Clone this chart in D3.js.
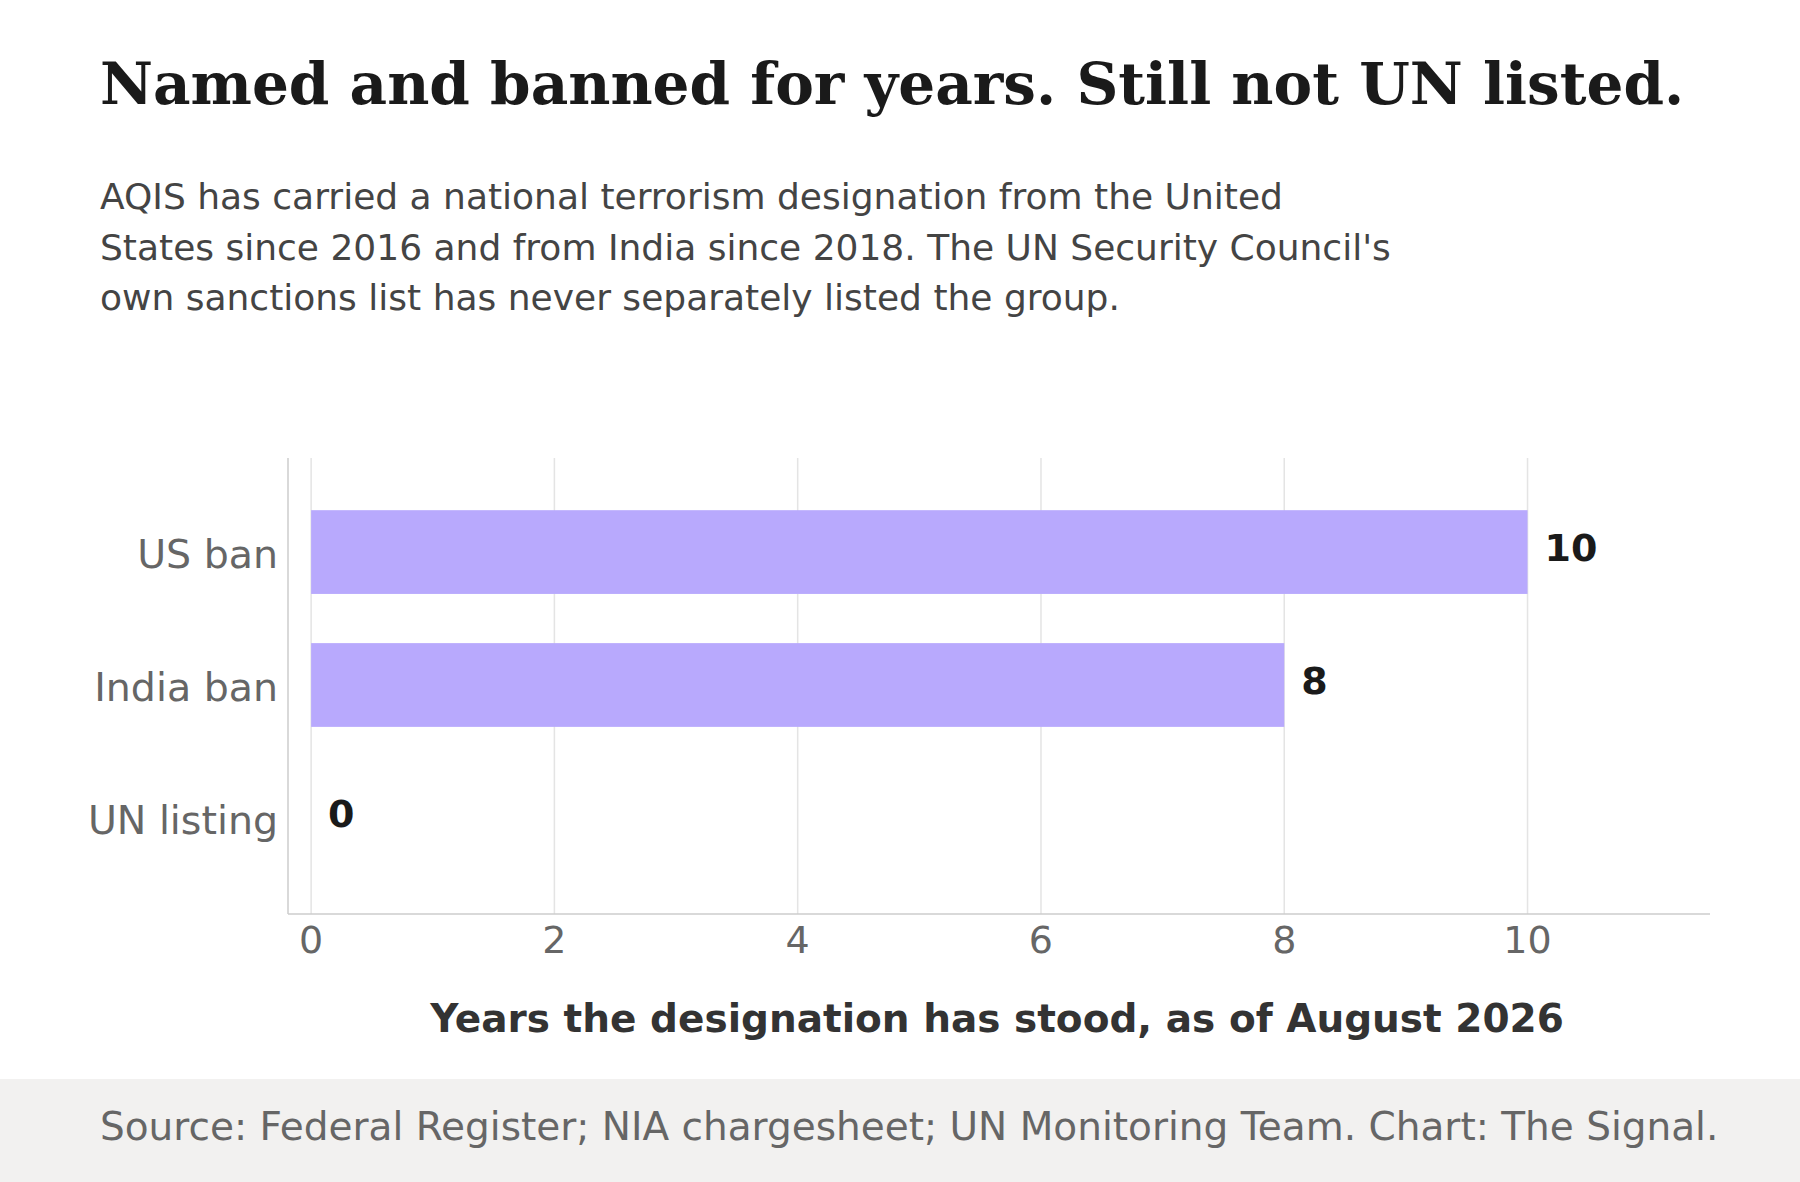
<!DOCTYPE html>
<html><head><meta charset="utf-8">
<script src="https://cdn.jsdelivr.net/npm/d3@7"></script>
<style>body{margin:0;background:#fff}</style>
</head><body>
<div id="chart"></div>
<script>
// data
var categories = ["US ban", "India ban", "UN listing"];
var years = [10, 8, 0];
var xTicks = [0, 2, 4, 6, 8, 10];

var W = 1800, H = 1182;
var svg = d3.select("#chart").append("svg").attr("width", W).attr("height", H);

var x = d3.scaleLinear().domain([-0.19, 11.5]).range([288, 1710]);
var y = d3.scaleBand().domain(categories).range([458, 914]).paddingInner(0.37).paddingOuter(0.4);

// title + subtitle
svg.append("text").attr("x", 100).attr("y", 104)
    .style("font-family", "DejaVu Serif").style("font-weight", "bold")
    .style("font-size", "58px").style("fill", "#1a1a1a")
    .text("Named and banned for years. Still not UN listed.");

var sub = ["AQIS has carried a national terrorism designation from the United",
    "States since 2016 and from India since 2018. The UN Security Council's",
    "own sanctions list has never separately listed the group."];
svg.selectAll(".sub").data(sub).enter().append("text")
    .attr("x", 100).attr("y", (d, i) => 209 + i * 50.5)
    .style("font-family", "DejaVu Sans").style("font-size", "36px").style("fill", "#444")
    .text(d => d);

// grid
svg.selectAll(".grid").data(xTicks).enter().append("line")
    .attr("x1", d => x(d)).attr("x2", d => x(d)).attr("y1", 458).attr("y2", 914)
    .attr("stroke", "#e4e4e4").attr("stroke-width", 1.5);

// axis lines
svg.append("line").attr("x1", 288).attr("x2", 288).attr("y1", 458).attr("y2", 914)
    .attr("stroke", "#ccc").attr("stroke-width", 1.5);
svg.append("line").attr("x1", 288).attr("x2", 1710).attr("y1", 914).attr("y2", 914)
    .attr("stroke", "#ccc").attr("stroke-width", 1.5);

// bars
svg.selectAll(".bar").data(years).enter().append("rect")
    .attr("x", x(0)).attr("y", (d, i) => y(categories[i]) - 1)
    .attr("width", d => x(d) - x(0)).attr("height", y.bandwidth())
    .attr("fill", "#b8a9fd");

svg.selectAll(".val").data(years).enter().append("text")
    .attr("x", d => x(d) + 17).attr("y", (d, i) => y(categories[i]) + y.bandwidth() / 2 + 8)
    .style("font-family", "DejaVu Sans").style("font-weight", "bold")
    .style("font-size", "38px").style("fill", "#1a1a1a")
    .text(d => d);

// category labels
svg.selectAll(".cat").data(categories).enter().append("text")
    .attr("x", 278).attr("y", d => y(d) + y.bandwidth() / 2 + 15)
    .attr("text-anchor", "end")
    .style("font-family", "DejaVu Sans").style("font-size", "39.5px").style("fill", "#666")
    .text(d => d);

// x tick labels
svg.selectAll(".tick").data(xTicks).enter().append("text")
    .attr("x", d => x(d)).attr("y", 953).attr("text-anchor", "middle")
    .style("font-family", "DejaVu Sans").style("font-size", "38px").style("fill", "#666")
    .text(d => d);

svg.append("text").attr("x", 997).attr("y", 1032).attr("text-anchor", "middle")
    .style("font-family", "DejaVu Sans").style("font-weight", "bold")
    .style("font-size", "39px").style("fill", "#333")
    .text("Years the designation has stood, as of August 2026");

// footer
svg.append("rect").attr("x", 0).attr("y", 1079).attr("width", W).attr("height", H - 1079).attr("fill", "#f2f1f0");
svg.append("text").attr("x", 100).attr("y", 1140)
    .style("font-family", "DejaVu Sans").style("font-size", "39px").style("fill", "#666")
    .text("Source: Federal Register; NIA chargesheet; UN Monitoring Team. Chart: The Signal.");
</script>
</body></html>
